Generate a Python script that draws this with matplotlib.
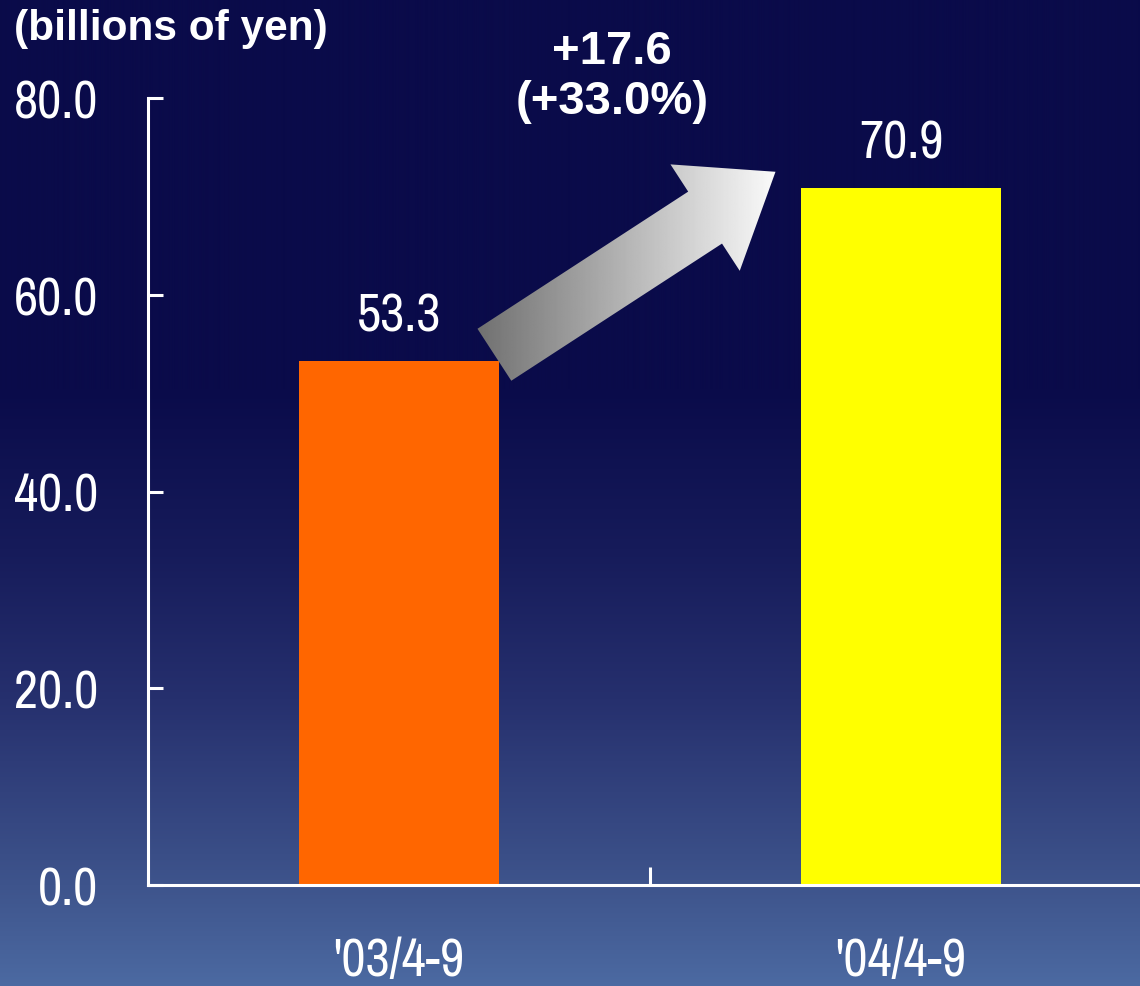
import numpy as np
import matplotlib
matplotlib.use('Agg')
import matplotlib.pyplot as plt
from matplotlib.patches import Polygon
from matplotlib.transforms import IdentityTransform

periods = ["'03/4-9", "'04/4-9"]
profit = [53.3, 70.9]
bar_colors = ['#ff6600', '#ffff00']
y_ticks = [0, 20, 40, 60, 80]
unit_label = '(billions of yen)'
change_label = '+17.6\n(+33.0%)'

narrow = dict(family=['Archivo Narrow', 'DejaVu Sans'])

W, H = 1140, 987
fig = plt.figure(figsize=(W / 100, H / 100), dpi=100)

# background: flat navy on top, fading to steel blue at the bottom
bg = fig.add_axes([0, 0, 1, 1], zorder=-5)
rows = np.arange(H)
stops_y = [0, 390, 550, 700, 886, 987]
stops_c = np.array([[10, 11, 74], [10, 11, 74], [22, 27, 90], [38, 48, 110],
                    [62, 84, 140], [76, 106, 162]]) / 255.0
grad = np.stack([np.interp(rows, stops_y, stops_c[:, k]) for k in range(3)], axis=1)
bg.imshow(np.repeat(grad[:, None, :], 4, axis=1), aspect='auto', extent=[0, 1, 0, 1])
bg.axis('off')

ax = fig.add_axes([148 / W, (H - 886) / H, 1004 / W, (886 - 99) / H])
ax.patch.set_visible(False)
x = np.arange(len(periods))
bw = 0.4
ax.bar(x, profit, width=bw, color=bar_colors, zorder=2)
ax.set_xlim(-0.5, 1.5)
ax.set_ylim(0, 80)

for s in ['top', 'right']:
    ax.spines[s].set_visible(False)
for s in ['left', 'bottom']:
    ax.spines[s].set_color('white')
    ax.spines[s].set_linewidth(2.2)

ax.set_yticks(y_ticks)
ax.set_yticklabels(['%.1f' % v for v in y_ticks], color='white', fontsize=38, **narrow)
ax.tick_params(axis='y', direction='in', length=11, width=2.2, color='white', pad=36)
ax.set_xticks([0.5])
ax.set_xticklabels([''])
ax.tick_params(axis='x', which='major', direction='in', length=13, width=2.2, color='white')
ax.set_xticks(x, minor=True)
ax.set_xticklabels(periods, minor=True, color='white', fontsize=38, **narrow)
ax.tick_params(axis='x', which='minor', length=0, pad=37)

for xi, v in zip(x, profit):
    ax.annotate('%.1f' % v, (xi, v), xytext=(0, 15), textcoords='offset points',
                ha='center', va='bottom', color='white', fontsize=38, **narrow)

fig.text(14 / W, 1 - 29 / H, unit_label, color='white', fontsize=30.5,
         fontweight='bold', family='Liberation Sans', ha='left', va='center')
fig.text(612 / W, 1 - 77 / H, change_label, color='white', fontsize=34,
         fontweight='bold', family='Liberation Sans', ha='center', va='center',
         linespacing=1.15)

# growth arrow from the first bar to the second, shaded grey to white
fig.canvas.draw()
p0 = ax.transData.transform((x[0] + bw / 2 - 0.01, profit[0] + 0.6))
p1 = ax.transData.transform((x[1] - bw / 2 - 0.05, profit[1] + 1.6))
d = p1 - p0
u = d / np.hypot(*d)
n = np.array([-u[1], u[0]])
shaft, head, head_len = 31, 63.5, 84
base = p1 - u * head_len
pts = [p0 + n * shaft, base + n * shaft, base + n * head, p1,
       base - n * head, base - n * shaft, p0 - n * shaft]
arrow = Polygon(pts, closed=True, transform=IdentityTransform(),
                facecolor='none', edgecolor='none')
ax.add_patch(arrow)
pts = np.array(pts)
inv = ax.transData.inverted()
(x0, y0), (x1, y1) = inv.transform([pts.min(axis=0), pts.max(axis=0)])
shade = np.linspace(0.44, 0.98, 256)[None, :]
im = ax.imshow(shade, cmap='gray', vmin=0, vmax=1, aspect='auto',
               extent=[x0, x1, y0, y1], zorder=3, interpolation='bilinear')
im.set_clip_path(arrow)
ax.set_xlim(-0.5, 1.5)
ax.set_ylim(0, 80)

fig.savefig('out.png', dpi=100)
